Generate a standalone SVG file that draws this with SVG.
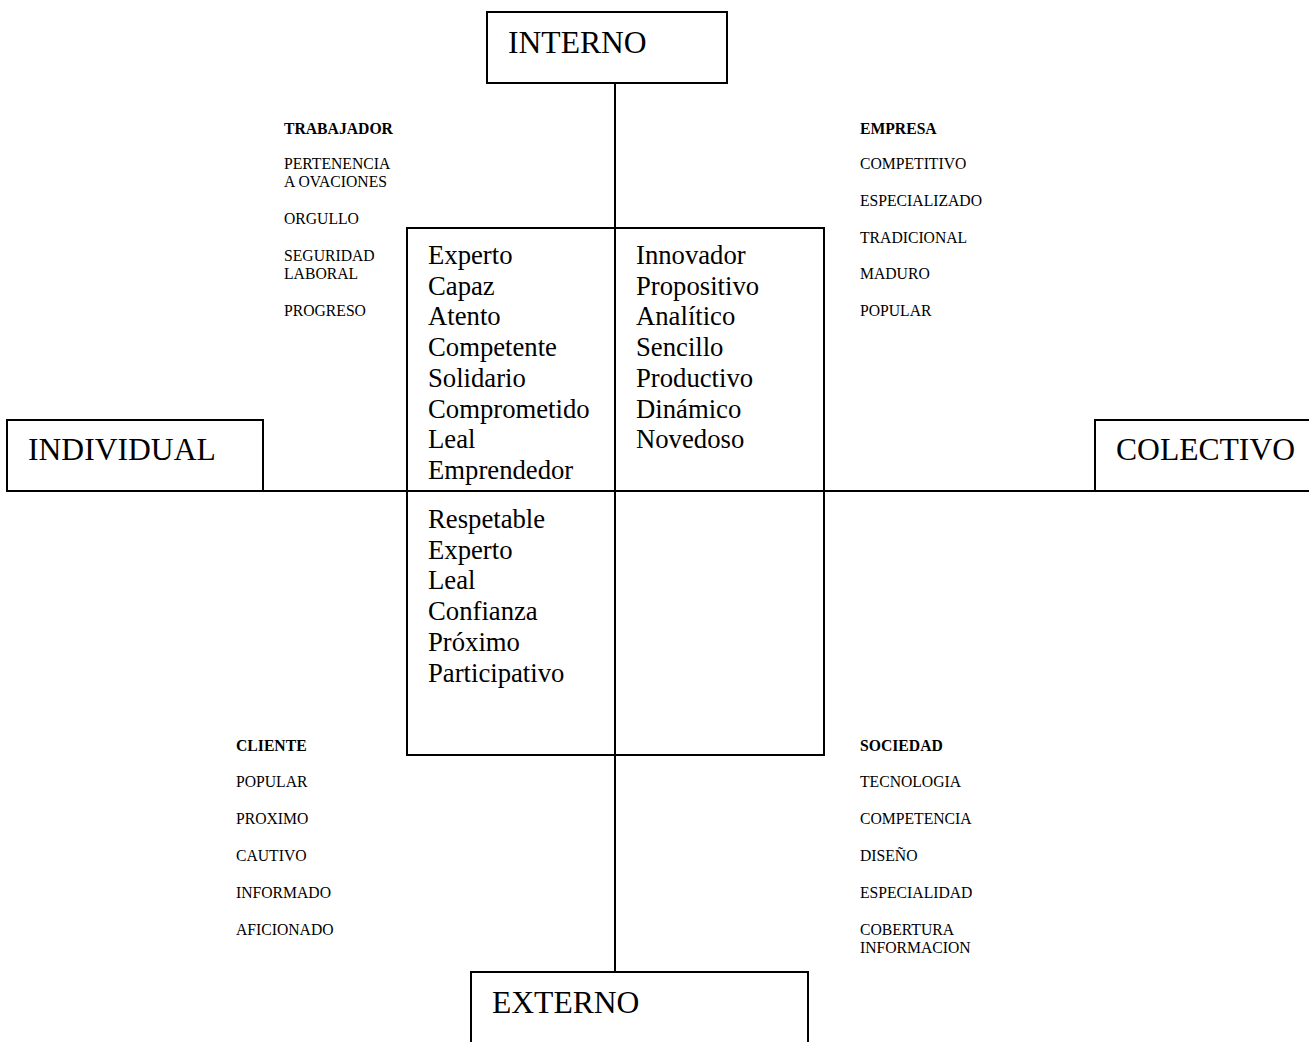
<svg xmlns="http://www.w3.org/2000/svg" width="1309" height="1042" viewBox="0 0 1309 1042">
<style>
.box{fill:#fff;stroke:#000;stroke-width:2}
.ln{stroke:#000;stroke-width:2;fill:none}
.big{font-family:"Liberation Serif","Times New Roman",serif;font-size:31.6px;fill:#000}
.mid{font-family:"Liberation Serif","Times New Roman",serif;font-size:26.7px;fill:#000}
.sm{font-family:"Liberation Serif","Times New Roman",serif;font-size:15.7px;fill:#000}
.b{font-weight:bold}
</style>
<rect width="1309" height="1042" fill="#fff"/>
<g id="connectors">
<line class="ln" x1="615" y1="83" x2="615" y2="972"/>
<line class="ln" x1="263" y1="491" x2="1095" y2="491"/>
</g>
<g id="center-box">
<rect class="ln" x="407" y="228" width="417" height="527"/>
<line class="ln" x1="615" y1="228" x2="615" y2="755"/>
<line class="ln" x1="407" y1="491" x2="824" y2="491"/>
</g>
<g id="interno">
<rect class="box" x="487" y="12" width="240" height="71"/>
<text class="big" x="508" y="53">INTERNO</text>
</g>
<g id="externo">
<rect class="box" x="471" y="972" width="337" height="80"/>
<text class="big" x="492" y="1013">EXTERNO</text>
</g>
<g id="individual">
<rect class="box" x="7" y="420" width="256" height="71"/>
<text class="big" x="28" y="460">INDIVIDUAL</text>
</g>
<g id="colectivo">
<rect class="box" x="1095" y="420" width="230" height="71"/>
<text class="big" x="1116" y="460">COLECTIVO</text>
</g>
<g id="q-internal-individual">
<text class="mid" x="428" y="264">Experto</text>
<text class="mid" x="428" y="294.7">Capaz</text>
<text class="mid" x="428" y="325.4">Atento</text>
<text class="mid" x="428" y="356.1">Competente</text>
<text class="mid" x="428" y="386.8">Solidario</text>
<text class="mid" x="428" y="417.5">Comprometido</text>
<text class="mid" x="428" y="448.2">Leal</text>
<text class="mid" x="428" y="478.9">Emprendedor</text>
</g>
<g id="q-internal-colectivo">
<text class="mid" x="636" y="264">Innovador</text>
<text class="mid" x="636" y="294.7">Propositivo</text>
<text class="mid" x="636" y="325.4">Analítico</text>
<text class="mid" x="636" y="356.1">Sencillo</text>
<text class="mid" x="636" y="386.8">Productivo</text>
<text class="mid" x="636" y="417.5">Dinámico</text>
<text class="mid" x="636" y="448.2">Novedoso</text>
</g>
<g id="q-external-individual">
<text class="mid" x="428" y="528">Respetable</text>
<text class="mid" x="428" y="558.7">Experto</text>
<text class="mid" x="428" y="589.4">Leal</text>
<text class="mid" x="428" y="620.1">Confianza</text>
<text class="mid" x="428" y="650.8">Próximo</text>
<text class="mid" x="428" y="681.5">Participativo</text>
</g>
<g id="trabajador">
<text class="sm b" x="284" y="134">TRABAJADOR</text>
<text class="sm" x="284" y="169">PERTENENCIA</text>
<text class="sm" x="284" y="187">A OVACIONES</text>
<text class="sm" x="284" y="224">ORGULLO</text>
<text class="sm" x="284" y="261">SEGURIDAD</text>
<text class="sm" x="284" y="279">LABORAL</text>
<text class="sm" x="284" y="316">PROGRESO</text>
</g>
<g id="empresa">
<text class="sm b" x="860" y="134">EMPRESA</text>
<text class="sm" x="860" y="169">COMPETITIVO</text>
<text class="sm" x="860" y="206">ESPECIALIZADO</text>
<text class="sm" x="860" y="243">TRADICIONAL</text>
<text class="sm" x="860" y="279">MADURO</text>
<text class="sm" x="860" y="316">POPULAR</text>
</g>
<g id="cliente">
<text class="sm b" x="236" y="751">CLIENTE</text>
<text class="sm" x="236" y="787">POPULAR</text>
<text class="sm" x="236" y="824">PROXIMO</text>
<text class="sm" x="236" y="861">CAUTIVO</text>
<text class="sm" x="236" y="898">INFORMADO</text>
<text class="sm" x="236" y="935">AFICIONADO</text>
</g>
<g id="sociedad">
<text class="sm b" x="860" y="751">SOCIEDAD</text>
<text class="sm" x="860" y="787">TECNOLOGIA</text>
<text class="sm" x="860" y="824">COMPETENCIA</text>
<text class="sm" x="860" y="861">DISEÑO</text>
<text class="sm" x="860" y="898">ESPECIALIDAD</text>
<text class="sm" x="860" y="935">COBERTURA</text>
<text class="sm" x="860" y="953">INFORMACION</text>
</g>
</svg>
